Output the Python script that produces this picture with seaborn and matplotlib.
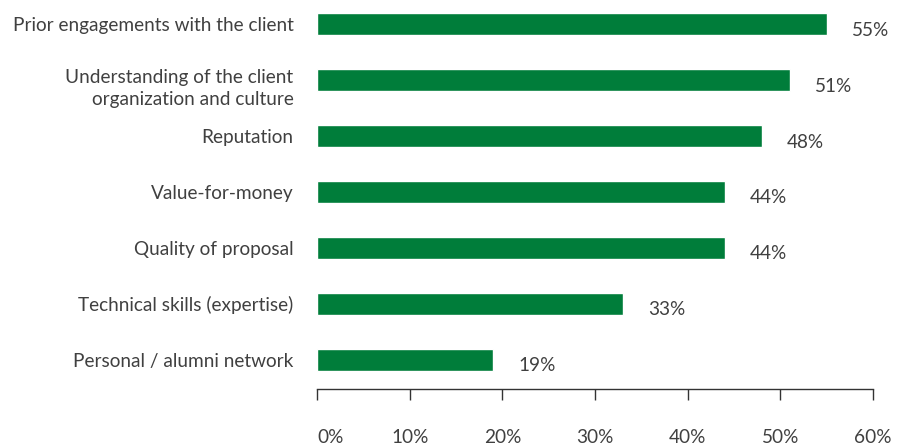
import matplotlib
matplotlib.use("Agg")
import matplotlib.pyplot as plt
import seaborn as sns
import pandas as pd

categories = [
    "Prior engagements with the client",
    "Understanding of the client\norganization and culture",
    "Reputation",
    "Value-for-money",
    "Quality of proposal",
    "Technical skills (expertise)",
    "Personal / alumni network",
]
values = [55, 51, 48, 44, 44, 33, 19]
value_labels = ["55%", "51%", "48%", "44%", "44%", "33%", "19%"]
x_ticks = [0, 10, 20, 30, 40, 50, 60]
x_tick_labels = ["0%", "10%", "20%", "30%", "40%", "50%", "60%"]

sns.set_style("white")
plt.rcParams["font.family"] = ["Lato", "DejaVu Sans"]

GREEN = "#007d3a"
TEXT = "#404040"
FS = 13.7

df = pd.DataFrame({"factor": categories, "share": values})

fig = plt.figure(figsize=(9, 4.48), dpi=100)
ax = fig.add_axes([317 / 900, (448 - 389) / 448, (873 - 317) / 900, 389 / 448])

sns.barplot(data=df, x="share", y="factor", color=GREEN, width=0.39,
            saturation=1, ax=ax, orient="h")

ax.set_xlim(0, 60)
ax.set_ylim(6.52, -0.43)
ax.set_xlabel("")
ax.set_ylabel("")

for spine in ["top", "right", "left"]:
    ax.spines[spine].set_visible(False)
ax.spines["bottom"].set_color("#333333")
ax.spines["bottom"].set_linewidth(1.0)

ax.set_xticks(x_ticks)
ax.set_xticklabels(x_tick_labels)
ax.tick_params(axis="x", bottom=True, direction="out", length=8, width=1.0,
               color="#333333", pad=21, labelsize=FS, labelcolor=TEXT)
ax.tick_params(axis="y", left=False, length=0, pad=17, labelsize=FS,
               labelcolor=TEXT)
ax.get_xticklabels()[0].set_horizontalalignment("left")
for t in ax.get_yticklabels():
    t.set_linespacing(1.4)
    if "\n" in t.get_text():
        t.set_y(t.get_position()[1])
        t.set_transform(t.get_transform() + matplotlib.transforms.ScaledTranslation(0, -4 / 100, fig.dpi_scale_trans))

for i, (v, lab) in enumerate(zip(values, value_labels)):
    ax.annotate(lab, xy=(v, i), xytext=(25, -6), textcoords="offset pixels",
                ha="left", va="center", fontsize=FS, color=TEXT)

fig.savefig("out.png", dpi=100)
